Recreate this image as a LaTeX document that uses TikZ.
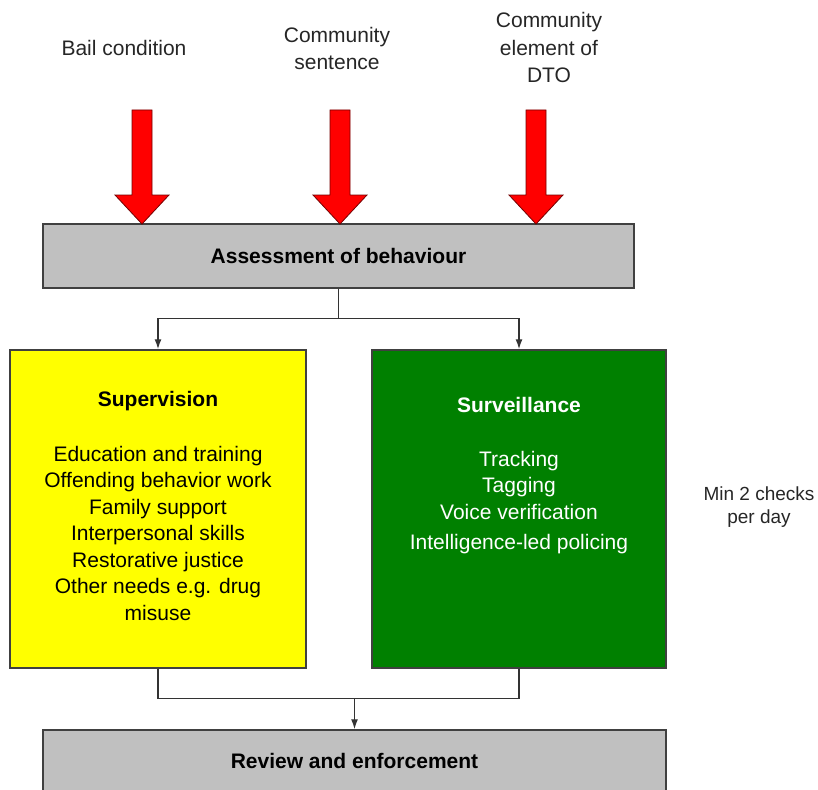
\documentclass[tikz,border=0pt]{standalone}
\usepackage{fontspec}
\setmainfont{Liberation Sans}
\usepackage{xcolor}
\usetikzlibrary{positioning,arrows.meta}
\definecolor{boxgrey}{HTML}{C0C0C0}
\definecolor{boxyellow}{HTML}{FFFF00}
\definecolor{boxgreen}{HTML}{008000}
\definecolor{arrowred}{HTML}{FF0000}

\begin{document}
\begin{tikzpicture}[x=1pt, y=-1pt,
    box/.style={draw=black!75, line width=1.5pt, inner sep=0pt},
    lbl/.style={align=center, inner sep=0pt, text=black!85, font=\fontsize{21}{27.5}\selectfont},
    itemtext/.style={align=center, inner sep=0pt, font=\fontsize{21}{26.5}\selectfont},
    link/.style={draw=black!80, line width=1.4pt},
    tip/.style={-{Latex[length=10pt,width=7pt]}}]
        \useasboundingbox (0,0) rectangle (818,789);
        % Sources
        \node[lbl] (bail) at (124,48) {Bail condition};
        \node[lbl] (sentence) at (337,48.5) {Community\\sentence};
        \node[lbl] (dto) at (549,47.5) {Community\\element of\\DTO};
        % Assessment
        \node[box, fill=boxgrey, minimum width=591pt, minimum height=64pt,
              font=\fontsize{21}{26}\selectfont\bfseries] (assess) at (338.5,256) {Assessment of behaviour};
        \foreach \x in {142,340,536}
            \draw[fill=arrowred, draw=red!45!black, line width=0.8pt]
                (\x-10,110) -- (\x+10,110) -- (\x+10,195) -- (\x+27,195)
                -- (\x,224) -- (\x-27,195) -- (\x-10,195) -- cycle;
        % Supervision and surveillance
        \node[box, fill=boxyellow, minimum width=296pt, minimum height=318pt] (sup) at (158,509) {};
        \node[box, fill=boxgreen, minimum width=294pt, minimum height=318pt] (surv) at (519,509) {};
        \node[itemtext, below=42pt of sup.north] (suptext) {{\bfseries Supervision}\\[28pt]
            Education and training\\Offending behavior work\\Family support\\
            Interpersonal skills\\Restorative justice\\Other needs e.g. drug\\misuse};
        \node[itemtext, text=white, below=48pt of surv.north] (survtext) {{\bfseries Surveillance}\\[27pt]
            Tracking\\Tagging\\Voice verification\\[4pt]Intelligence-led policing};
        \node[lbl, font=\fontsize{19}{23}\selectfont] (checks) at (759,507.5) {Min 2 checks\\per day};
        % Review
        \node[box, fill=boxgrey, minimum width=623pt, minimum height=62pt,
              font=\fontsize{21}{26}\selectfont\bfseries] (review) at (354.5,761) {Review and enforcement};
        % Connectors
        \draw[link] (assess.south) -- ++(0,30) coordinate (split);
        \draw[link, tip] (split) -| (sup.north);
        \draw[link, tip] (split) -| (surv.north);
        \draw[link] (sup.south) -- ++(0,30) coordinate (join) -| (surv.south);
        \draw[link, tip] (join -| review.north) -- (review.north);
    \end{tikzpicture}
\end{document}
